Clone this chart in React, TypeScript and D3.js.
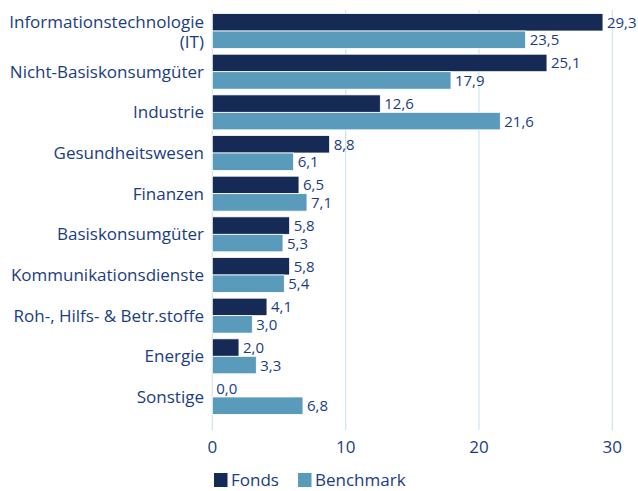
import React from "react";
import * as d3 from "d3";

const categories = [
  "Informationstechnologie (IT)",
  "Nicht-Basiskonsumgüter",
  "Industrie",
  "Gesundheitswesen",
  "Finanzen",
  "Basiskonsumgüter",
  "Kommunikationsdienste",
  "Roh-, Hilfs- & Betr.stoffe",
  "Energie",
  "Sonstige",
];
const categoryLines = [
  ["Informationstechnologie", "(IT)"],
  ["Nicht-Basiskonsumgüter"],
  ["Industrie"],
  ["Gesundheitswesen"],
  ["Finanzen"],
  ["Basiskonsumgüter"],
  ["Kommunikationsdienste"],
  ["Roh-, Hilfs- & Betr.stoffe"],
  ["Energie"],
  ["Sonstige"],
];
const fonds = [29.3, 25.1, 12.6, 8.8, 6.5, 5.8, 5.8, 4.1, 2.0, 0.0];
const benchmark = [23.5, 17.9, 21.6, 6.1, 7.1, 5.3, 5.4, 3.0, 3.3, 6.8];
const seriesNames = ["Fonds", "Benchmark"];
const xTicks = [0, 10, 20, 30];

const W = 638;
const H = 491;
const FONT = "'Open Sans', 'Noto Sans', sans-serif";
const TEXT = "#1a3d82";
const COLORS = ["#152b55", "#5a9aba"];
const GRID = "#cfe6ee";

export default function App() {
  const x = d3.scaleLinear().domain([0, 30]).range([212.3, 612.3]);
  const y = d3.scaleBand<string>().domain(categories).range([10.7, 417.3]).paddingInner(0.14).paddingOuter(0.07);
  const sub = d3.scaleBand<string>().domain(seriesNames).range([0, y.bandwidth()]);
  const fmt = (v: number) => v.toFixed(1).replace(".", ",");
  const series = [fonds, benchmark];

  return (
    <svg width={W} height={H} style={{ position: "absolute", left: 0, top: 0, fontFamily: FONT }}>
      {xTicks.map((t) => (
        <line key={t} x1={x(t)} x2={x(t)} y1={10} y2={430} stroke={GRID} strokeWidth={1.2} />
      ))}
      {xTicks.map((t) => (
        <text key={"t" + t} x={x(t)} y={453} textAnchor="middle" fontSize={17} fill={TEXT}>
          {t}
        </text>
      ))}
      {categories.map((c, i) => {
        const y0 = y(c)!;
        const cy = y0 + y.bandwidth() / 2;
        const lines = categoryLines[i];
        return (
          <g key={c}>
            {lines.map((ln, k) => (
              <text
                key={k}
                x={204}
                y={lines.length === 1 ? cy + 6 : y0 + 14.5 + k * 20}
                textAnchor="end"
                fontSize={17}
                fill={TEXT}
              >
                {ln}
              </text>
            ))}
            {series.map((s, si) => {
              const by = y0 + sub(seriesNames[si])!;
              const bh = sub.bandwidth();
              const v = s[i];
              return (
                <g key={si}>
                  {v > 0 && (
                    <rect
                      x={x(0)}
                      y={by}
                      width={x(v) - x(0)}
                      height={bh}
                      fill={COLORS[si]}
                      stroke="#ffffff"
                      strokeWidth={0.8}
                    />
                  )}
                  <text x={x(v) + 4} y={by + bh / 2 + 5.5} fontSize={15} fill={TEXT}>
                    {fmt(v)}
                  </text>
                </g>
              );
            })}
          </g>
        );
      })}
      {seriesNames.map((n, i) => {
        const lx = [214, 298][i];
        return (
          <g key={n}>
            <rect x={lx} y={473} width={13.5} height={14} fill={COLORS[i]} />
            <text x={lx + 17} y={486} fontSize={17} fill={TEXT}>
              {n}
            </text>
          </g>
        );
      })}
    </svg>
  );
}
